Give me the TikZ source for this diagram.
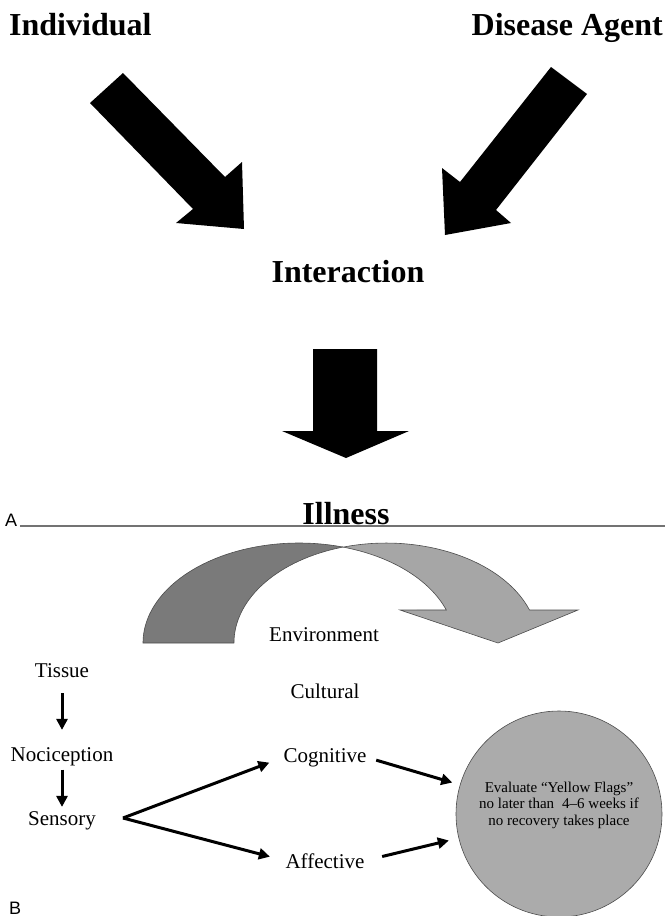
\documentclass[tikz,border=0pt]{standalone}
\usepackage{fontspec}
\setmainfont{Liberation Serif}
\newfontfamily\panelfont{Liberation Sans}
\usepackage{xcolor}
\usepackage{tikz}
\usetikzlibrary{arrows.meta}

\begin{document}
\begin{tikzpicture}[
  x=1pt, y=1pt,
  heading/.style={font=\fontsize{32}{36}\selectfont\bfseries, inner sep=0pt},
  txt/.style={font=\fontsize{21}{25}\selectfont, inner sep=0pt},
  panel/.style={font=\panelfont\fontsize{18}{21}\selectfont, inner sep=0pt},
  blockarrow/.style={fill=black},
  thinarrow/.style={line width=3pt, -{Triangle[length=11pt,width=11pt]}},
  band/.style={draw=black!70, line width=0.6pt},
  flagcircle/.style={circle, draw=black!70, line width=0.6pt, fill=black!33,
    minimum size=206pt, inner sep=0pt},
  flagnote/.style={font=\fontsize{15}{16.5}\selectfont, align=center, inner sep=0pt},
]
\useasboundingbox (0,0) rectangle (665,-916);

% panel A
\node[heading, anchor=base west] (indiv) at (9,-35) {Individual};
\node[heading, anchor=base east] (agent) at (663,-35) {Disease Agent};
\node[heading, anchor=base] (interact) at (348,-282) {Interaction};
\draw[black!55, line width=1.5pt] (20,-526) -- (665,-526);
\node[heading, anchor=base] (illness) at (346,-524) {Illness};
\node[panel, anchor=base west] (panelA) at (5,-526) {A};

\fill[blockarrow] (123,-73) -- (225,-177) -- (242,-162) -- (244,-229)
  -- (176,-223) -- (193,-209) -- (90,-103) -- cycle;
\fill[blockarrow] (551,-67) -- (460,-182) -- (442,-168) -- (445,-235)
  -- (511,-223) -- (496,-210) -- (587,-94) -- cycle;
\fill[blockarrow] (313,-349) -- (377,-349) -- (377,-431) -- (409,-431)
  -- (346,-458) -- (282,-431) -- (313,-431) -- cycle;

% panel B
\coordinate (twist) at (343.1,-547.1);
\filldraw[band, fill=black!52] (143,-643)
  arc[start angle=180, end angle=73.6, x radius=156pt, y radius=100pt]
  arc[start angle=106.4, end angle=180, x radius=152pt, y radius=100pt] -- cycle;
\filldraw[band, fill=black!35] (twist)
  arc[start angle=73.6, end angle=19.3, x radius=156pt, y radius=100pt]
  -- (400,-610) -- (498,-643) -- (578,-610) -- (529.5,-610)
  arc[start angle=19.3, end angle=106.4, x radius=152pt, y radius=100pt] -- cycle;

\node[txt, anchor=base] (env) at (324,-641) {Environment};
\node[txt, anchor=base] (cult) at (325,-698) {Cultural};
\node[txt, anchor=base] (tissue) at (62,-677) {Tissue};
\node[txt, anchor=base] (noci) at (62,-761) {Nociception};
\node[txt, anchor=base] (sensory) at (62,-825) {Sensory};
\node[txt, anchor=base] (cog) at (325,-762) {Cognitive};
\node[txt, anchor=base] (aff) at (325,-868) {Affective};
\coordinate (fork) at (123,-818);

\node[flagcircle] (yflags) at (559,-814) {};
\node[flagnote] (flagtext) at ([yshift=9pt]yflags.center)
  {Evaluate “Yellow Flags”\\ no later than\hspace{8pt}4--6 weeks if\\ no recovery takes place};

\node[panel, anchor=base west] (panelB) at (9,-914) {B};

\draw[thinarrow, shorten <=16pt, shorten >=17pt] (tissue) -- (tissue |- noci.north);
\draw[thinarrow, shorten <=4pt, shorten >=4pt] (noci) -- (noci |- sensory.north);
\draw[thinarrow, shorten >=15pt] (fork) -- (cog.west);
\draw[thinarrow, shorten >=16pt] (fork) -- (aff.west);
\draw[thinarrow, shorten <=10pt, shorten >=8pt] (cog.east) -- (yflags);
\draw[thinarrow, shorten <=18pt, shorten >=10pt] (aff.east) -- (yflags);
\end{tikzpicture}
\end{document}
